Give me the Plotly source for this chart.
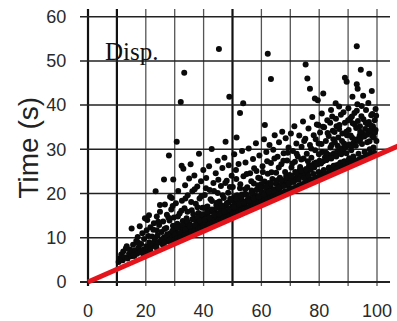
import plotly.graph_objects as go

# Scattered measurements: distance (x) versus elapsed time in seconds (y)
dist = [
    10.6, 11.1, 11.5, 12.0, 12.2, 12.7, 13.1, 13.4, 13.7, 14.2, 14.6, 15.0,
    15.1, 15.3, 15.6, 16.0, 16.3, 16.7, 17.0, 17.2, 17.5, 17.9, 18.1, 18.4, 18.8, 19.1, 19.4, 19.7, 19.9,
    20.2, 20.3, 20.5, 20.8, 21.1, 21.2, 21.6, 21.9, 22.2, 22.5, 22.8, 23.1, 23.2, 23.4, 23.5, 23.8, 23.8, 24.1, 24.4, 24.6, 24.9, 24.9,
    25.2, 25.4, 25.7, 26.0, 26.3, 26.3, 26.6, 26.8, 27.1, 27.3, 27.6, 27.9, 28.0, 28.2, 28.4, 28.5, 28.8, 29.0, 29.1, 29.4, 29.5, 29.7, 29.9,
    30.2, 30.4, 30.7, 30.6, 30.9, 31.2, 31.4, 31.7, 31.9, 32.1, 32.2, 32.4, 32.5, 32.8, 33.0, 33.1, 33.3, 33.4, 33.6, 33.8, 34.1, 34.3, 34.5, 34.8, 35.0,
    35.3, 35.5, 35.6, 35.9, 36.1, 36.3, 36.6, 36.8, 37.1, 37.3, 37.6, 37.8, 38.0, 38.2, 38.4, 38.6, 38.9, 39.1, 39.3, 39.6, 39.8, 39.9,
    40.2, 40.4, 40.6, 40.9, 41.1, 41.3, 41.6, 41.9, 42.1, 42.3, 42.5, 42.8, 42.9, 43.2, 43.4, 43.7, 43.9, 44.2, 44.4, 44.7, 44.9, 44.9,
    45.2, 45.3, 45.5, 45.7, 46.0, 46.2, 46.5, 46.7, 47.0, 47.2, 47.4, 47.6, 47.7, 48.0, 48.2, 48.5, 48.7, 48.9, 48.9, 49.2, 49.4, 49.7, 49.9,
    50.1, 50.3, 50.6, 50.8, 51.0, 51.4, 51.3, 51.6, 51.8, 52.1, 52.3, 52.6, 52.6, 52.8, 53.1, 53.3, 53.7, 53.5, 53.8, 54.0, 54.3, 54.5, 54.8,
    55.1, 55.3, 55.6, 55.8, 56.1, 56.3, 56.6, 56.9, 57.1, 57.4, 57.6, 57.9, 58.1, 58.3, 58.6, 58.8, 59.1, 59.3, 59.6, 59.9,
    60.1, 60.4, 60.6, 60.9, 61.2, 61.1, 61.4, 61.7, 61.9, 62.2, 62.2, 62.5, 62.8, 63.0, 63.3, 63.3, 63.6, 63.8, 64.1, 64.3, 64.6, 64.8,
    65.1, 65.3, 65.6, 65.9, 66.1, 66.4, 66.6, 66.9, 67.2, 67.4, 67.7, 67.9, 68.2, 68.4, 68.7, 68.9, 69.2, 69.4, 69.7, 69.9,
    70.2, 70.4, 70.6, 70.9, 71.1, 71.4, 71.6, 71.9, 72.1, 72.4, 72.6, 72.9, 73.1, 73.4, 73.6, 73.9, 74.1, 74.4, 74.6, 74.9,
    75.3, 75.2, 75.4, 75.9, 75.7, 76.0, 76.3, 76.8, 76.5, 76.8, 77.1, 77.3, 77.6, 77.8, 78.1, 78.5, 78.3, 78.6, 78.9, 79.5, 79.2, 79.7, 79.4, 79.8,
    80.1, 80.3, 80.6, 80.9, 81.1, 81.4, 81.4, 81.7, 82.0, 82.3, 82.5, 82.8, 83.1, 83.3, 83.6, 83.9, 84.1, 84.5, 84.4, 84.9, 84.7,
    85.1, 85.7, 85.4, 85.8, 85.7, 86.0, 86.3, 86.9, 86.6, 86.9, 87.2, 87.5, 87.7, 88.0, 88.3, 88.9, 88.6, 89.5, 88.9, 89.2, 89.6, 89.9,
    90.1, 90.2, 90.5, 90.8, 91.5, 91.1, 91.6, 91.4, 91.9, 92.2, 92.5, 93.0, 93.0, 93.3, 93.0, 92.8, 93.1, 93.4, 93.7, 94.4, 94.7, 94.1, 94.0, 94.3, 94.6,
    95.0, 95.3, 95.6, 95.9, 96.2, 96.5, 96.8, 97.3, 97.2, 97.1, 97.4, 97.7, 98.2, 98.5, 98.0, 98.3, 98.6, 99.5, 98.9, 99.2, 99.5, 99.8,
]
time_s = [
    4.5, 5.4, 6.2, 4.9, 6.9, 5.6, 7.6, 8.1, 5.3, 6.4, 7.3, 5.8,
    12.1, 6.6, 8.4, 5.9, 7.2, 9.3, 6.4, 10.2, 7.8, 12.6, 6.9, 8.6, 11.0, 7.3, 9.7, 14.4, 6.8,
    8.1, 11.7, 14.0, 7.4, 15.1, 9.0, 12.4, 7.9, 10.3, 8.6, 13.3, 9.4, 9.9, 20.5, 8.2, 11.7, 14.8, 10.6, 8.9, 12.9, 15.9, 17.4,
    9.4, 11.3, 8.8, 13.7, 23.2, 10.1, 17.5, 9.7, 12.2, 15.2, 10.4, 9.2, 28.6, 13.9, 19.3, 11.0, 16.4, 19.0, 10.1, 12.7, 23.2, 14.6, 10.8,
    11.5, 17.8, 31.7, 9.9, 13.2, 20.6, 11.0, 15.5, 12.3, 40.7, 10.6, 26.3, 18.4, 13.8, 25.6, 11.4, 47.3, 16.7, 21.9, 12.6, 14.4, 10.9, 19.6, 12.1, 23.4,
    13.0, 26.6, 11.4, 16.2, 20.5, 12.4, 14.3, 24.1, 11.9, 17.7, 13.5, 21.6, 12.8, 15.6, 29.0, 18.9, 13.9, 22.8, 12.6, 16.8, 14.5, 25.3,
    13.4, 19.7, 15.2, 23.5, 12.9, 17.1, 14.1, 26.2, 20.8, 13.7, 16.0, 30.1, 18.3, 14.6, 22.4, 13.9, 15.8, 24.6, 17.4, 14.3, 20.1, 27.4,
    15.6, 52.7, 18.2, 14.4, 21.7, 16.3, 25.8, 15.1, 19.0, 28.1, 14.9, 31.7, 17.3, 22.9, 15.7, 20.2, 26.4, 41.9, 16.5, 18.8, 15.3, 24.0, 17.1,
    21.5, 15.9, 28.9, 17.9, 16.2, 32.7, 23.3, 19.6, 16.8, 26.7, 17.5, 38.2, 21.2, 16.4, 18.6, 29.6, 40.4, 17.0, 23.9, 19.8, 17.7, 27.0, 18.3,
    21.4, 16.9, 30.2, 19.0, 24.6, 17.8, 20.7, 18.4, 27.8, 22.3, 17.9, 19.5, 31.4, 25.1, 18.6, 21.9, 19.2, 28.6, 23.4, 18.9,
    20.3, 26.2, 18.8, 32.3, 35.5, 22.7, 19.9, 29.4, 20.8, 51.6, 24.5, 19.5, 31.0, 21.6, 45.9, 26.9, 20.2, 23.3, 29.9, 21.0, 33.2, 20.5,
    24.7, 22.1, 28.3, 20.9, 31.6, 23.6, 21.4, 26.6, 34.0, 22.6, 29.1, 21.8, 24.9, 32.5, 22.9, 27.5, 21.9, 30.4, 24.2, 22.4,
    33.6, 25.9, 22.8, 29.6, 23.5, 35.2, 27.2, 23.1, 31.3, 24.4, 28.4, 23.9, 33.1, 26.0, 24.2, 30.6, 25.0, 36.3, 27.9, 24.6,
    49.2, 32.4, 25.5, 46.0, 29.0, 24.9, 34.7, 43.7, 26.4, 31.0, 25.4, 28.1, 37.3, 26.1, 33.2, 41.5, 25.9, 29.8, 27.0, 41.1, 35.6, 35.5, 26.6, 31.3,
    27.4, 33.8, 26.8, 38.1, 29.4, 42.6, 27.3, 35.0, 28.2, 31.9, 27.6, 36.6, 28.8, 33.0, 28.0, 30.4, 38.9, 37.4, 28.7, 32.3, 34.2,
    29.1, 40.4, 31.6, 36.9, 28.6, 35.2, 29.6, 39.7, 32.7, 34.6, 29.3, 37.8, 30.2, 33.6, 29.8, 46.2, 31.3, 45.3, 36.0, 30.5, 33.2, 30.9,
    39.3, 34.4, 31.1, 37.0, 41.9, 30.7, 35.9, 32.6, 31.5, 38.2, 32.0, 53.3, 44.7, 43.7, 38.7, 34.8, 32.3, 36.4, 31.9, 48.0, 39.8, 35.2, 33.1, 32.4, 37.5,
    33.5, 36.8, 32.9, 34.6, 38.9, 33.3, 35.7, 47.1, 36.2, 33.9, 31.8, 34.3, 43.2, 33.1, 37.7, 33.0, 35.2, 39.1, 32.7, 36.6, 34.4, 31.9,
]

# Extra runs filling the crowded band above the lower bound
band_dist = [
    15.8, 17.4, 18.9, 20.9, 21.5, 22.6, 23.7, 24.3, 25.9, 26.5, 27.2, 27.8, 28.7, 29.3,
    30.5, 31.1, 31.6, 32.3, 32.9, 33.7, 34.0, 34.4, 35.2, 35.7, 36.4, 36.9, 37.5, 37.9, 38.5, 39.2, 39.7,
    40.3, 40.8, 41.4, 41.8, 42.4, 43.0, 43.6, 44.1, 44.6, 45.1, 45.6, 46.1, 46.6, 47.1, 47.5, 48.1, 48.6, 49.1, 49.5,
    50.2, 50.7, 51.2, 51.7, 52.2, 52.7, 53.2, 53.9, 54.4, 54.9, 55.4, 55.9, 56.5, 57.0, 57.5, 58.0, 58.5, 58.9, 59.5,
    60.0, 60.5, 61.0, 61.6, 62.0, 62.6, 63.1, 63.5, 64.0, 64.5, 65.0, 65.5, 66.0, 66.5, 67.0, 67.6, 68.1, 68.6, 69.1, 69.6,
    70.1, 70.7, 71.2, 71.7, 72.2, 72.8, 73.3, 73.8, 74.3, 74.8, 75.5, 76.1, 76.6, 77.2, 77.7, 78.2, 78.8, 79.3, 79.9,
    80.4, 80.8, 81.3, 81.9, 82.4, 82.9, 83.4, 83.8, 84.3, 84.8, 85.3, 85.9, 86.4, 87.0, 87.4, 87.9, 88.4, 88.8, 89.4,
    90.0, 90.4, 90.9, 91.3, 91.8, 92.3, 92.7, 93.2, 93.6, 94.2, 94.8, 95.2, 95.7, 96.1, 96.6, 97.0, 97.5, 97.9,
    98.4, 98.8, 99.3, 99.7,
]
band_time = [
    6.1, 8.9, 6.5, 10.4, 7.1, 11.8, 7.8, 13.6, 8.4, 12.0, 9.9, 14.6, 9.4, 17.2,
    12.4, 14.8, 9.8, 16.1, 11.7, 18.9, 13.3, 15.9, 11.2, 18.1, 15.4, 21.0, 12.3, 16.9, 14.7, 19.4, 13.1,
    16.8, 21.2, 15.5, 12.8, 18.7, 15.9, 20.6, 13.4, 17.9, 23.1, 16.8, 13.9, 19.6, 16.2, 22.4, 14.5, 18.0, 21.5, 16.6,
    14.8, 19.2, 25.3, 17.7, 15.2, 22.1, 19.8, 15.8, 21.0, 24.4, 18.9, 16.4, 22.8, 19.9, 25.7, 17.2, 20.9, 23.6, 17.7,
    22.1, 24.9, 19.3, 17.9, 27.3, 22.4, 18.5, 24.8, 20.6, 27.9, 18.9, 23.0, 25.9, 19.6, 22.1, 27.4, 20.0, 24.0, 29.2, 20.6,
    23.3, 26.8, 21.1, 24.9, 29.0, 21.5, 25.3, 27.7, 22.0, 31.9, 23.7, 27.3, 22.6, 30.2, 23.2, 26.8, 32.3, 23.6, 28.9,
    24.5, 31.2, 35.1, 24.4, 29.2, 33.7, 25.9, 36.0, 31.0, 25.6, 33.9, 26.4, 30.8, 35.5, 27.0, 31.9, 38.4, 27.3, 34.0,
    36.6, 28.0, 33.1, 37.4, 28.4, 35.6, 30.8, 40.2, 29.0, 34.0, 31.2, 42.1, 29.4, 36.0, 31.6, 40.5, 30.0, 35.4,
    38.0, 30.4, 33.8, 37.6,
]

# Runs packed just above the lower bound
near_dist = [
    25.5, 26.4, 27.4, 28.3, 29.2, 30.1, 31.0, 31.8, 32.7, 33.6, 34.4, 35.3, 36.1, 37.0, 37.9, 38.7, 39.5,
    40.4, 41.2, 42.0, 42.9, 43.7, 44.5, 45.4, 46.3, 47.1, 48.0, 48.8, 49.6,
    50.5, 51.4, 52.3, 53.1, 54.0, 54.8, 55.7, 56.6, 57.4, 58.3, 59.1,
    60.0, 60.9, 61.7, 62.6, 63.4, 64.3, 65.2, 66.0, 66.9, 67.8, 68.6, 69.5,
    70.4, 71.2, 72.1, 72.9, 73.8, 74.7, 75.5, 76.4, 77.3, 78.1, 79.0, 79.8,
    80.7, 81.6, 82.4, 83.3, 84.2, 85.0, 85.9, 86.8, 87.6, 88.5, 89.4, 90.2, 91.1,
]
near_time = [
    9.6, 8.9, 10.8, 9.5, 11.6, 10.7, 12.3, 11.1, 12.9, 11.8, 13.6, 12.7, 14.2, 12.9, 14.6, 13.9, 15.3,
    14.1, 15.9, 14.6, 16.4, 15.2, 16.9, 15.4, 17.3, 16.0, 17.8, 16.4, 18.5,
    16.9, 18.7, 17.6, 19.3, 17.9, 19.8, 18.2, 20.2, 18.9, 20.8, 19.2,
    21.3, 19.8, 21.6, 20.4, 22.2, 20.7, 22.8, 21.3, 23.1, 21.7, 23.6, 22.3,
    24.0, 22.6, 24.7, 23.1, 25.2, 23.5, 25.5, 24.0, 26.2, 24.4, 26.6, 24.9,
    27.1, 25.3, 27.6, 25.7, 27.9, 26.3, 28.4, 26.6, 28.9, 27.2, 29.1, 27.6, 29.8,
]

# Runs that finish right at the lower bound
edge_dist = [
    30.0, 31.0, 32.0, 33.5, 34.6, 35.8, 36.9, 38.3, 39.0, 40.0, 41.5, 42.0, 43.0, 44.0, 45.0, 46.0, 46.8, 48.0, 49.0,
    50.0, 51.1, 52.0, 53.0, 54.0, 55.0, 56.0, 57.0, 58.0, 59.0, 60.0, 61.0, 62.0, 63.0, 64.0, 65.0, 66.0, 67.0, 68.0, 69.0,
    70.0, 71.0, 72.0, 73.0, 74.0, 75.0, 76.0, 77.0, 78.0, 79.0, 80.0, 81.0, 82.0, 83.0, 84.0, 85.0, 86.0, 87.0, 88.0, 89.0,
    90.0, 91.0, 92.0, 93.0, 94.0, 95.0, 96.0, 97.0, 98.0, 99.0,
]
edge_time = [
    9.5, 9.9, 10.1, 10.6, 10.8, 11.3, 11.5, 12.0, 12.1, 12.4, 12.9, 13.0, 13.3, 13.5, 13.9, 14.0, 14.4, 14.6, 14.9,
    15.3, 15.5, 15.8, 16.1, 16.4, 16.6, 17.0, 17.2, 17.6, 17.7, 18.1, 18.4, 18.6, 19.0, 19.2, 19.5, 19.8, 20.1, 20.4, 20.6,
    21.0, 21.2, 21.5, 21.8, 22.1, 22.4, 22.6, 23.0, 23.2, 23.5, 23.9, 24.1, 24.4, 24.6, 25.0, 25.2, 25.6, 25.8, 26.1, 26.4,
    26.7, 26.9, 27.3, 27.5, 27.8, 28.1, 28.4, 28.7, 29.0, 29.2,
]

# Lower-bound reference line
bound_x = [0, 110]
bound_y = [0, 31.5]

x_ticks = [0, 20, 40, 60, 80, 100]
y_ticks = [0, 10, 20, 30, 40, 50, 60]
x_grid = [0, 10, 20, 30, 40, 50, 60, 70, 80, 90, 100]
y_grid = [0, 10, 20, 30, 40, 50, 60]

X_RANGE = [-2.77, 106.92]
Y_RANGE = [-0.9, 61.73]
GRID_RIGHT = 104.5

fig = go.Figure()

shapes = []
for gx in x_grid:
    heavy = gx in (0, 10, 50)
    shapes.append(dict(type="line", xref="x", yref="paper", x0=gx, x1=gx, y0=0, y1=1,
                       line=dict(color="#111111" if heavy else "#555555", width=2.2 if heavy else 1.3),
                       layer="below"))
for gy in y_grid:
    shapes.append(dict(type="line", xref="x", yref="y", x0=X_RANGE[0], x1=GRID_RIGHT, y0=gy, y1=gy,
                       line=dict(color="#222222", width=2.0 if gy == 0 else 1.5),
                       layer="below"))

all_dist = dist + band_dist + near_dist + edge_dist
all_time = time_s + band_time + near_time + edge_time
fig.add_trace(go.Scatter(x=all_dist, y=all_time, mode="markers",
                         marker=dict(size=6, color="#0a0a0a"), hoverinfo="skip", showlegend=False))
fig.add_trace(go.Scatter(x=bound_x, y=bound_y, mode="lines",
                         line=dict(color="#e4141c", width=5), hoverinfo="skip", showlegend=False))

fig.update_layout(
    width=397, height=321,
    margin=dict(l=80, r=0, t=9, b=33),
    paper_bgcolor="white", plot_bgcolor="white",
    shapes=shapes,
    font=dict(family="Liberation Sans, Arial, sans-serif", color="#2a2a2a"),
    xaxis=dict(range=X_RANGE, tickvals=x_ticks, showgrid=False, zeroline=False, showline=False,
               ticks="outside", ticklen=8, tickcolor="rgba(0,0,0,0)", tickfont=dict(size=18)),
    yaxis=dict(range=Y_RANGE, tickvals=y_ticks, showgrid=False, zeroline=False, showline=False,
               ticks="outside", ticklen=9, tickcolor="rgba(0,0,0,0)", tickfont=dict(size=18)),
    annotations=[
        dict(text="Time (s)", xref="paper", yref="paper", x=-0.164, y=0.5, xanchor="center",
             yanchor="middle", textangle=-90, showarrow=False,
             font=dict(size=28, color="#222222", family="Liberation Sans, Arial, sans-serif")),
        dict(text="Disp.", xref="x", yref="y", x=5.3, y=48.7, xanchor="left", yanchor="bottom",
             showarrow=False, font=dict(size=25, color="#111111", family="Liberation Serif, Times New Roman, serif")),
    ],
)

fig.write_html("out.html")
